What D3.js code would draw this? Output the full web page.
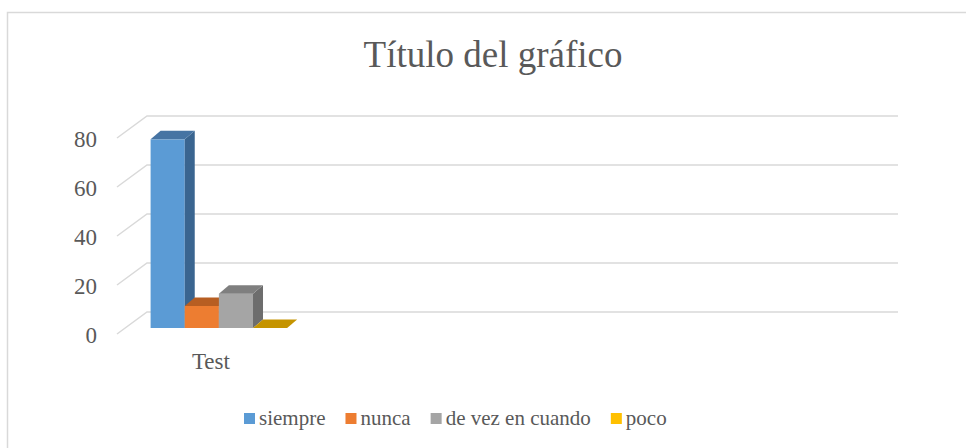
<!DOCTYPE html>
<html>
<head>
<meta charset="utf-8">
<script src="https://cdn.jsdelivr.net/npm/d3@7"></script>
<style>
  body { margin: 0; background: #fff; }
</style>
</head>
<body>
<div id="chart"></div>
<script>
// Chart data
const categories = ["Test", "", "", ""];
const seriesNames = ["siempre", "nunca", "de vez en cuando", "poco"];
const siempre = [77, null, null, null];
const nunca = [9, null, null, null];
const deVezEnCuando = [14, null, null, null];
const poco = [0, null, null, null];
const yTicks = [0, 20, 40, 60, 80];
const titleText = "Título del gráfico";

const seriesValues = [siempre, nunca, deVezEnCuando, poco];
// front / top / side colours for the 3D columns
const colors = [
  {front: "#5b9bd5", top: "#4674a3", side: "#3a6590"},
  {front: "#ed7d31", top: "#b75e22", side: "#a3541e"},
  {front: "#a5a5a5", top: "#7f7f7f", side: "#6d6d6d"},
  {front: "#ffc000", top: "#c59400", side: "#a87e00"}
];
const fontFamily = "'Liberation Serif', 'Times New Roman', 'DejaVu Serif', serif";
const textColor = "#595959";

const width = 966, height = 448;
const svg = d3.select("#chart").append("svg")
  .attr("width", width)
  .attr("height", height)
  .attr("font-family", fontFamily)
  .attr("fill", textColor);

// Chart border (only top and left visible)
svg.append("path")
  .attr("d", "M7.5,448 L7.5,12.5 L966,12.5")
  .attr("fill", "none")
  .attr("stroke", "#d9d9d9")
  .attr("stroke-width", 1.5);

// Title
svg.append("text")
  .attr("x", 493)
  .attr("y", 67)
  .attr("text-anchor", "middle")
  .attr("font-size", 37)
  .attr("fill", textColor)
  .text(titleText);

// Back wall scales
const wallLeft = 147, wallRight = 898;
const xScale = d3.scaleBand()
  .domain(d3.range(categories.length))
  .range([wallLeft, wallRight]);
const yScale = d3.scaleLinear()
  .domain([0, 80])
  .range([312, 116]);
// depth offsets (floor front, bar front, bar back)
const floorFront = {dx: -30, dy: 22};
const barFront = {dx: -22, dy: 16};
const barBack = {dx: -12, dy: 7.5};

// Gridlines + side wall diagonals
const grid = svg.append("g");
yTicks.forEach(t => {
  const y = yScale(t);
  grid.append("path")
    .attr("d", `M${wallLeft + floorFront.dx},${y + floorFront.dy} L${wallLeft},${y} L${wallRight},${y}`)
    .attr("fill", "none")
    .attr("stroke", "#d9d9d9")
    .attr("stroke-width", 1.5);
});

// Y tick labels
svg.append("g").selectAll("text")
  .data(yTicks)
  .join("text")
  .attr("x", 97)
  .attr("y", d => yScale(d) + floorFront.dy)
  .attr("dy", "0.4em")
  .attr("text-anchor", "end")
  .attr("font-size", 23)
  .attr("fill", textColor)
  .text(d => d);

// Series band inside each category (gap width 150%)
const gapRatio = 1.5;
const barW = xScale.bandwidth() / (seriesNames.length + gapRatio);

const bars = svg.append("g");
categories.forEach((cat, ci) => {
  seriesValues.forEach((vals, si) => {
    const v = vals[ci];
    if (v === null || v === undefined) return;
    const x0 = xScale(ci) + barW * gapRatio / 2 + si * barW;
    const x1 = x0 + barW;
    const yTop = yScale(v), yBase = yScale(0);
    const c = colors[si];
    const ddx = barBack.dx - barFront.dx, ddy = barBack.dy - barFront.dy;
    const fx0 = x0 + barFront.dx, fx1 = x1 + barFront.dx;
    const fyT = yTop + barFront.dy, fyB = yBase + barFront.dy;
    // front face
    if (fyB - fyT > 0) {
      bars.append("rect")
        .attr("x", fx0).attr("y", fyT)
        .attr("width", fx1 - fx0).attr("height", fyB - fyT)
        .attr("fill", c.front);
      // right side face
      bars.append("path")
        .attr("d", `M${fx1},${fyT} L${fx1 + ddx},${fyT + ddy} L${fx1 + ddx},${fyB + ddy} L${fx1},${fyB} Z`)
        .attr("fill", c.side);
    }
    // top face
    bars.append("path")
      .attr("d", `M${fx0},${fyT} L${fx1},${fyT} L${fx1 + ddx},${fyT + ddy} L${fx0 + ddx},${fyT + ddy} Z`)
      .attr("fill", c.top);
  });
});

// Category labels (front plane)
svg.append("g").selectAll("text")
  .data(categories)
  .join("text")
  .attr("x", (d, i) => xScale(i) + xScale.bandwidth() / 2 + floorFront.dx)
  .attr("y", 369)
  .attr("text-anchor", "middle")
  .attr("font-size", 23)
  .attr("fill", textColor)
  .text(d => d);

// Legend
const legend = svg.append("g");
let lx = 244;
seriesNames.forEach((name, i) => {
  legend.append("rect")
    .attr("x", lx).attr("y", 413)
    .attr("width", 11).attr("height", 11)
    .attr("fill", colors[i].front);
  const t = legend.append("text")
    .attr("x", lx + 15)
    .attr("y", 425)
    .attr("font-size", 21)
    .attr("fill", textColor)
    .text(name);
  lx += 15 + t.node().getComputedTextLength() + 20;
});
</script>
</body>
</html>
